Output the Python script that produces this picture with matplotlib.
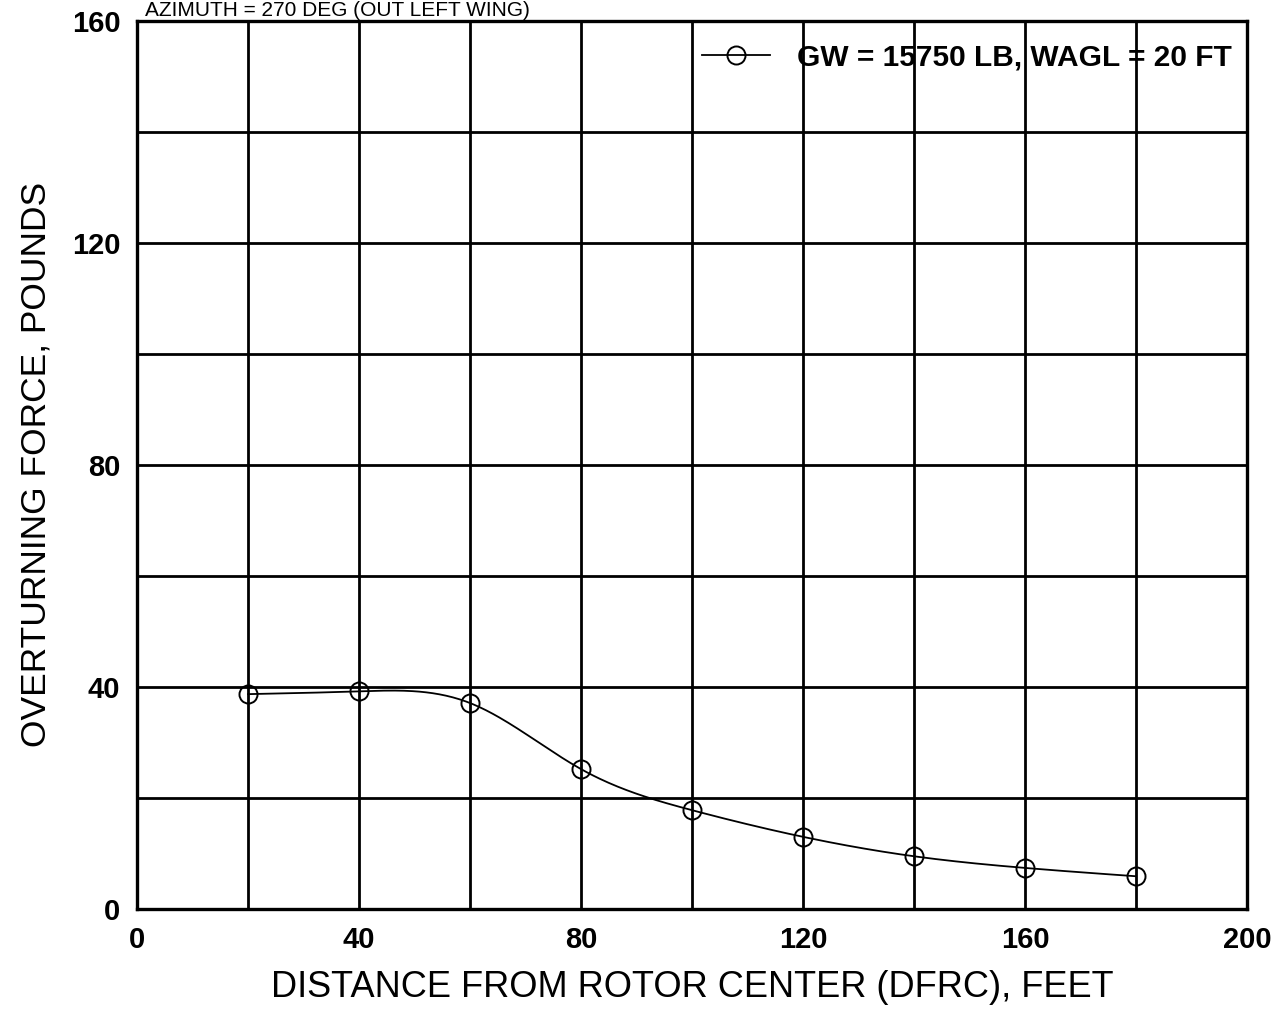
import numpy as np
import matplotlib
matplotlib.use("Agg")
import matplotlib.pyplot as plt

plt.rcParams['font.family'] = ['Liberation Sans', 'DejaVu Sans']

# distance from rotor center (ft) and overturning force (lb)
dfrc = [20, 40, 60, 80, 100, 120, 140, 160, 180]
force = [38.7, 39.2, 37.1, 25.2, 17.8, 13.0, 9.5, 7.4, 5.9]
series_label = "GW = 15750 LB, WAGL = 20 FT"
x_ticks = [0, 40, 80, 120, 160, 200]
y_ticks = [0, 40, 80, 120, 160]


def natural_spline(x, y, n=400):
    # plain natural cubic spline, only used to draw the smooth curve
    x = np.asarray(x, float)
    y = np.asarray(y, float)
    k = len(x)
    h = np.diff(x)
    A = np.zeros((k, k))
    b = np.zeros(k)
    A[0, 0] = A[-1, -1] = 1
    for i in range(1, k - 1):
        A[i, i - 1] = h[i - 1]
        A[i, i] = 2 * (h[i - 1] + h[i])
        A[i, i + 1] = h[i]
        b[i] = 3 * ((y[i + 1] - y[i]) / h[i] - (y[i] - y[i - 1]) / h[i - 1])
    c = np.linalg.solve(A, b)
    xs = np.linspace(x[0], x[-1], n)
    ys = np.empty_like(xs)
    for j, xv in enumerate(xs):
        i = min(np.searchsorted(x, xv, side='right') - 1, k - 2)
        d = xv - x[i]
        bb = (y[i + 1] - y[i]) / h[i] - h[i] * (2 * c[i] + c[i + 1]) / 3
        dd = (c[i + 1] - c[i]) / (3 * h[i])
        ys[j] = y[i] + bb * d + c[i] * d ** 2 + dd * d ** 3
    return xs, ys


fig = plt.figure(figsize=(12.84, 10.16), dpi=100)
ax = fig.add_axes([0.1067, 0.1053, 0.8645, 0.8744])

xs, ys = natural_spline(dfrc, force)
ax.plot(xs, ys, color='black', lw=1.3, zorder=3)
ax.plot(dfrc, force, ls='none', marker='o', ms=13, mfc='none', mec='black',
        mew=1.4, zorder=4)

# legend entry drawn as line + circle
ax.plot([], [], color='black', lw=1.3, marker='o', ms=13, mfc='none',
        mec='black', mew=1.4, label=series_label)
leg = ax.legend(loc='center right', bbox_to_anchor=(1.0, 0.958), frameon=False,
                handlelength=2.3, handletextpad=0.9, borderaxespad=0.1,
                prop={'weight': 'bold', 'size': 21.5})

ax.set_xlim(0, 200)
ax.set_ylim(0, 160)
ax.set_xticks(x_ticks)
ax.set_yticks(y_ticks)
ax.set_xticks(np.arange(0, 201, 20), minor=True)
ax.set_yticks(np.arange(0, 161, 20), minor=True)
ax.grid(which='both', color='black', lw=2.0)
ax.tick_params(which='both', length=0, labelsize=21, pad=12)
for lab in ax.get_xticklabels() + ax.get_yticklabels():
    lab.set_fontweight('bold')
for s in ax.spines.values():
    s.set_linewidth(2.4)

ax.set_xlabel("DISTANCE FROM ROTOR CENTER (DFRC), FEET", fontsize=26, labelpad=12)
ax.set_ylabel("OVERTURNING FORCE, POUNDS", fontsize=25.5, labelpad=14)

# title sits in the thin strip above the plot
fig.text(0.113, 0.999, "AZIMUTH = 270 DEG (OUT LEFT WING)", fontsize=15,
         va='top', ha='left')

fig.savefig("out.png", dpi=100)
